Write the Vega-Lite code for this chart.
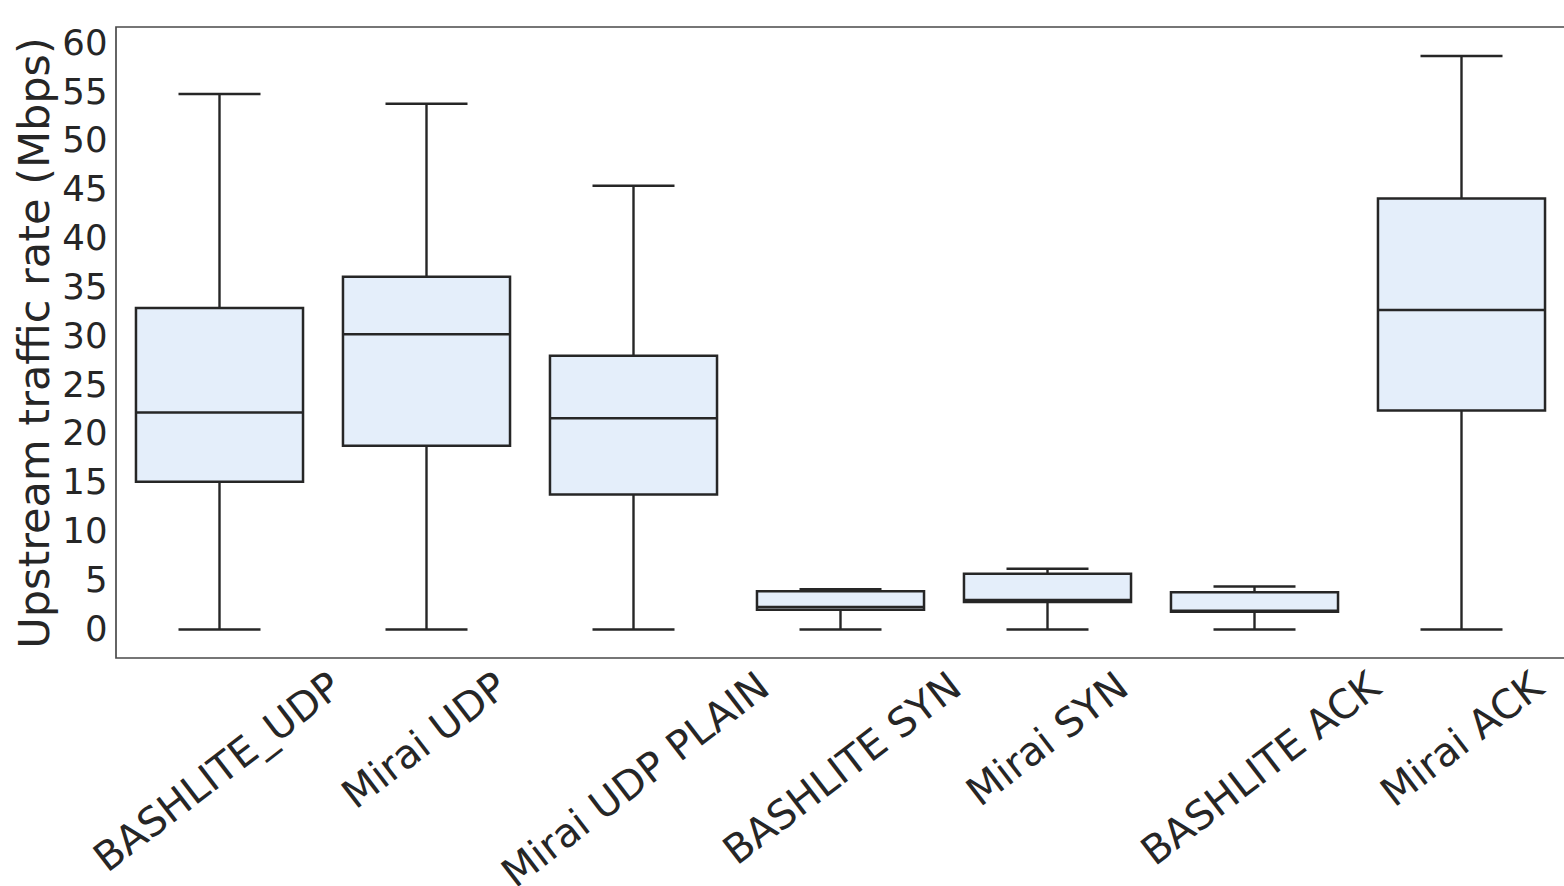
{
  "$schema": "https://vega.github.io/schema/vega-lite/v6.json",
  "autosize": {"type": "none"},
  "padding": {"left": 116, "top": 27, "right": 0, "bottom": 228},
  "width": 1449,
  "height": 631,
  "background": "white",
  "config": {
    "font": "DejaVu Sans",
    "view": {"stroke": "#4a4a4a", "strokeWidth": 1.7}
  },
  "data": {
    "values": [
      {"attack": "BASHLITE_UDP", "min": 0, "q1": 15.1, "median": 22.2, "q3": 32.9, "max": 54.8},
      {"attack": "Mirai UDP", "min": 0, "q1": 18.8, "median": 30.2, "q3": 36.1, "max": 53.8},
      {"attack": "Mirai UDP PLAIN", "min": 0, "q1": 13.8, "median": 21.6, "q3": 28.0, "max": 45.4},
      {"attack": "BASHLITE SYN", "min": 0, "q1": 2.0, "median": 2.3, "q3": 3.9, "max": 4.1},
      {"attack": "Mirai SYN", "min": 0, "q1": 2.8, "median": 3.0, "q3": 5.7, "max": 6.2},
      {"attack": "BASHLITE ACK", "min": 0, "q1": 1.8, "median": 1.9, "q3": 3.8, "max": 4.4},
      {"attack": "Mirai ACK", "min": 0, "q1": 22.4, "median": 32.7, "q3": 44.1, "max": 58.7}
    ]
  },
  "encoding": {
    "x": {
      "field": "attack",
      "type": "nominal",
      "sort": null,
      "scale": {"paddingInner": 0, "paddingOuter": 0},
      "axis": {
        "title": null,
        "domain": false,
        "ticks": false,
        "labelAngle": -37.5,
        "labelAlign": "right",
        "labelBaseline": "top",
        "labelFontSize": 40,
        "labelColor": "#262626",
        "labelPadding": 8,
        "labelOverlap": false,
        "labelBound": false,
        "labelFlush": false,
        "labelLimit": 0,
        "labelOffset": {
          "condition": [
            {"test": "datum.value === 'BASHLITE_UDP'", "value": 105},
            {"test": "datum.value === 'Mirai UDP'", "value": 64},
            {"test": "datum.value === 'Mirai UDP PLAIN'", "value": 119},
            {"test": "datum.value === 'BASHLITE SYN'", "value": 104},
            {"test": "datum.value === 'Mirai SYN'", "value": 64},
            {"test": "datum.value === 'BASHLITE ACK'", "value": 109}
          ],
          "value": 65
        }
      }
    }
  },
  "layer": [
    {
      "mark": {"type": "rule", "color": "#262626", "strokeWidth": 2.4},
      "encoding": {
        "y": {
          "field": "min",
          "type": "quantitative",
          "scale": {"domain": [-2.93, 61.66], "nice": false, "zero": false},
          "axis": {
            "title": "Upstream traffic rate (Mbps)",
            "titleFontSize": 43,
            "titleFontWeight": "normal",
            "titleColor": "#262626",
            "titlePadding": 4,
            "values": [0, 5, 10, 15, 20, 25, 30, 35, 40, 45, 50, 55, 60],
            "domain": false,
            "ticks": false,
            "grid": false,
            "labelFontSize": 35.5,
            "labelColor": "#262626",
            "labelPadding": 9,
            "labelFlush": false,
            "labelOverlap": false
          }
        },
        "y2": {"field": "max"}
      }
    },
    {
      "mark": {"type": "bar", "fill": "#e4eefa", "stroke": "#262626", "strokeWidth": 2.5, "width": {"band": 0.807}},
      "encoding": {
        "y": {"field": "q1", "type": "quantitative"},
        "y2": {"field": "q3"}
      }
    },
    {
      "mark": {"type": "tick", "color": "#262626", "thickness": 2.5, "size": 167, "opacity": 1},
      "encoding": {"y": {"field": "median", "type": "quantitative"}}
    },
    {
      "mark": {"type": "tick", "color": "#262626", "thickness": 2.5, "size": 82, "opacity": 1},
      "encoding": {"y": {"field": "max", "type": "quantitative"}}
    },
    {
      "mark": {"type": "tick", "color": "#262626", "thickness": 2.5, "size": 82, "opacity": 1},
      "encoding": {"y": {"field": "min", "type": "quantitative"}}
    }
  ]
}
